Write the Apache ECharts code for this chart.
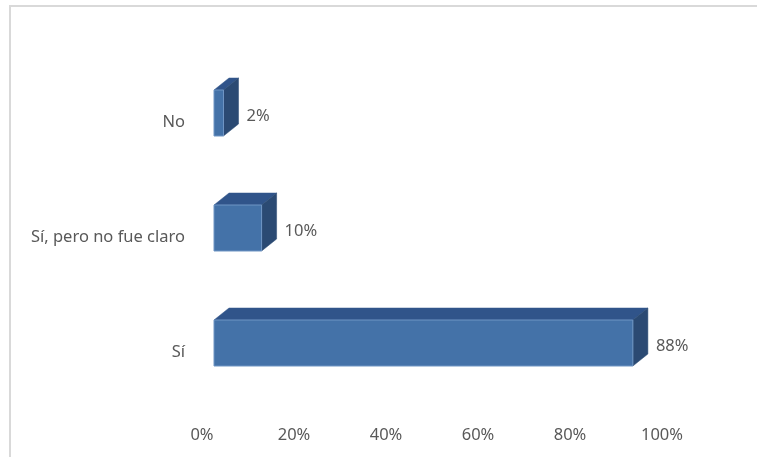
<!DOCTYPE html>
<html>
<head>
<meta charset="utf-8">
<script src="https://cdn.jsdelivr.net/npm/echarts@6/dist/echarts.min.js"></script>
<style>html,body{margin:0;padding:0;background:#fff;}#c{width:757px;height:457px;}</style>
</head>
<body>
<div id="c"></div>
<script>
const categories = ['Sí', 'Sí, pero no fue claro', 'No'];
const values = [88, 10, 2];
const tickValues = [0, 20, 40, 60, 80, 100];

const FONT = '"Noto Sans", sans-serif';
const TXT = '#595959';
const DX = 15, DY = 12;

const chart = echarts.init(document.getElementById('c'), null, {renderer: 'canvas'});
chart.setOption({
  animation: false,
  backgroundColor: '#fff',
  graphic: [{
    type: 'rect', silent: true,
    shape: {x: 10, y: 6, width: 900, height: 600},
    style: {fill: 'none', stroke: '#d9d9d9', lineWidth: 2}
  }],
  grid: [
    {left: 214, width: 476, top: 55.5, height: 345},
    {left: 202, width: 460, top: 65, height: 345}
  ],
  xAxis: [
    {gridIndex: 0, type: 'value', min: 0, max: 100, show: false},
    {gridIndex: 1, type: 'value', min: tickValues[0], max: tickValues[tickValues.length - 1], interval: 20,
     axisLine: {show: false}, axisTick: {show: false}, splitLine: {show: false},
     axisLabel: {formatter: '{value}%', color: TXT, fontFamily: FONT, fontSize: 16.5, margin: 17}}
  ],
  yAxis: [
    {gridIndex: 0, type: 'category', data: categories, show: false},
    {gridIndex: 1, type: 'category', data: categories,
     axisLine: {show: false}, axisTick: {show: false}, splitLine: {show: false},
     axisLabel: {color: TXT, fontFamily: FONT, fontSize: 16.5, margin: 17}}
  ],
  series: [{
    type: 'custom',
    xAxisIndex: 0, yAxisIndex: 0,
    data: values.map((v, i) => [v, i]),
    renderItem: function (params, api) {
      const v = api.value(0), i = api.value(1);
      const p0 = api.coord([0, i]);
      const p1 = api.coord([v, i]);
      const h = api.size([0, 1])[1] * 0.4;
      const x0 = p0[0], x1 = p1[0];
      const yT = p0[1] - h / 2, yB = p0[1] + h / 2;
      return {
        type: 'group',
        children: [
          {type: 'polygon', shape: {points: [[x0, yT], [x0 + DX, yT - DY], [x1 + DX, yT - DY], [x1, yT]]},
           style: {fill: '#30548A', stroke: '#30548A', lineWidth: 0.5}},
          {type: 'polygon', shape: {points: [[x1, yT], [x1 + DX, yT - DY], [x1 + DX, yB - DY], [x1, yB]]},
           style: {fill: '#2B4A73', stroke: '#2B4A73', lineWidth: 0.5}},
          {type: 'rect', shape: {x: x0, y: yT, width: x1 - x0, height: h},
           style: {fill: '#4472A8', stroke: '#6f95c4', lineWidth: 1}},
          {type: 'text', x: x1 + DX + 8, y: p0[1] + 3,
           style: {text: v + '%', fill: TXT, font: '16.5px ' + FONT, align: 'left', verticalAlign: 'middle'}}
        ]
      };
    }
  }]
});
</script>
</body>
</html>
